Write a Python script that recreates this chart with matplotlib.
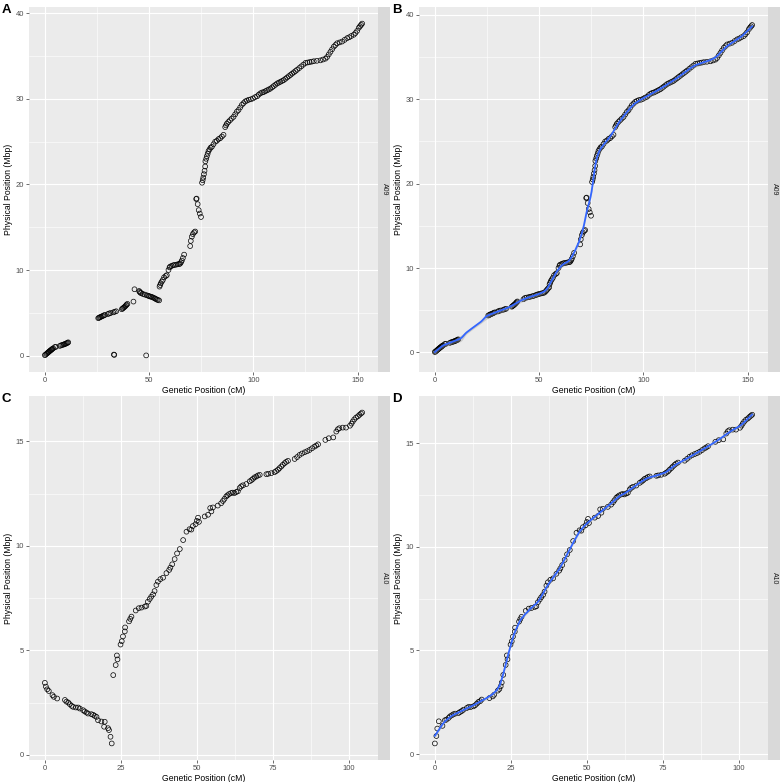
import numpy as np
import matplotlib
matplotlib.use('Agg')
import matplotlib.pyplot as plt

plt.rcParams['font.family'] = ['Liberation Sans', 'DejaVu Sans']

# A09: markers shared by the raw map (A) and the corrected map (B)
a09_gen = [0.0, 0.3, 0.8, 1.1, 1.5, 1.8, 2.1, 2.4, 2.7, 3.0, 3.3, 3.6, 4.0, 4.8, 5.3,
           7.2, 7.8, 8.4, 8.9, 9.3, 9.7, 10.1, 10.5, 10.9, 11.2,
           25.6, 26.0, 26.4, 26.8, 27.3, 27.8, 28.3, 28.8, 30.2, 30.8, 31.5, 32.8, 33.5, 34.2,
           36.9, 37.3, 37.7, 38.1, 38.5, 38.9, 39.2, 39.6,
           55.0, 55.3, 55.6, 56.1, 56.6, 57.2, 58.0, 58.5, 59.3, 59.8, 60.1, 60.8, 61.5, 62.2,
           63.0, 63.8, 64.5, 64.9, 65.3, 65.7, 66.2, 66.8,
           69.7, 70.0, 70.5, 71.0, 71.6, 72.1, 72.6, 72.8, 73.3, 73.8, 74.3, 74.9,
           75.4, 75.7, 76.0, 76.3, 76.6, 76.9, 77.0, 77.4, 77.7, 78.1, 78.5, 79.0, 79.5, 80.1,
           80.9, 81.7, 82.5, 83.3, 84.1, 84.9, 85.7, 86.5, 86.9, 87.3, 88.0, 88.8, 89.6, 90.5,
           91.3, 92.1, 92.9, 93.7, 94.5, 95.3, 96.1, 96.9, 97.8, 98.8, 99.8, 100.8, 101.8, 102.6,
           103.4, 104.2, 105.0, 105.8, 106.6, 107.4, 108.2, 109.0, 109.8, 110.6, 111.4, 112.2,
           113.0, 113.8, 114.6, 115.4, 116.2, 117.0, 117.8, 118.6, 119.4, 120.2, 121.0, 122.0,
           123.0, 124.0, 125.0, 126.0, 127.0, 128.0, 129.0, 130.5, 132.2, 133.4, 134.6, 135.4,
           136.2, 137.0, 137.8, 138.6, 139.4, 140.2, 141.4, 142.6, 143.8, 145.0, 146.0, 147.0,
           148.2, 149.0, 149.8, 150.6, 151.2, 151.7, 152.2]
a09_phys = [0.05, 0.1, 0.2, 0.28, 0.35, 0.42, 0.48, 0.55, 0.6, 0.66, 0.72, 0.78, 0.85, 1.0, 1.02,
            1.13, 1.2, 1.25, 1.28, 1.32, 1.36, 1.4, 1.45, 1.5, 1.55,
            4.37, 4.42, 4.48, 4.52, 4.58, 4.63, 4.7, 4.75, 4.85, 4.92, 4.97, 5.05, 5.12, 5.18,
            5.42, 5.5, 5.58, 5.66, 5.75, 5.85, 5.95, 6.04,
            8.06, 8.25, 8.45, 8.65, 8.84, 9.15, 9.3, 9.4, 10.0, 10.3, 10.4, 10.48, 10.55, 10.6,
            10.62, 10.68, 10.7, 10.75, 10.9, 11.1, 11.4, 11.8,
            12.8, 13.4, 13.9, 14.2, 14.4, 14.5, 18.3, 18.35, 17.7, 17.0, 16.6, 16.2,
            20.2, 20.5, 20.8, 21.2, 21.6, 22.1, 22.7, 23.0, 23.3, 23.6, 23.9, 24.1, 24.3, 24.4,
            24.7, 25.0, 25.1, 25.3, 25.4, 25.6, 25.8, 26.7, 26.9, 27.1, 27.3, 27.5, 27.7, 27.9,
            28.2, 28.5, 28.7, 29.0, 29.3, 29.5, 29.7, 29.8, 29.9, 29.95, 30.05, 30.2, 30.3, 30.5,
            30.65, 30.75, 30.8, 30.9, 31.0, 31.1, 31.2, 31.35, 31.5, 31.65, 31.8, 31.9,
            32.0, 32.1, 32.2, 32.35, 32.5, 32.65, 32.8, 32.95, 33.1, 33.25, 33.4, 33.6,
            33.8, 34.0, 34.2, 34.25, 34.3, 34.35, 34.4, 34.45, 34.5, 34.6, 34.7, 34.9,
            35.2, 35.5, 35.8, 36.1, 36.3, 36.5, 36.6, 36.7, 36.9, 37.1, 37.2, 37.35,
            37.5, 37.7, 37.95, 38.3, 38.5, 38.65, 38.8]

# A09 raw-map only (misplaced block and outliers)
a09_raw_gen = [42.5, 43.0, 45.2, 45.5, 45.8, 46.2, 47.0, 47.9, 48.8, 49.5, 50.0, 50.5, 51.0,
               51.6, 52.2, 52.8, 53.2, 53.7, 54.2, 54.8, 33.1, 33.3, 48.6]
a09_raw_phys = [6.31, 7.75, 7.55, 7.45, 7.35, 7.3, 7.2, 7.13, 7.05, 7.0, 6.95, 6.9, 6.88,
                6.82, 6.75, 6.68, 6.62, 6.55, 6.5, 6.45, 0.12, 0.08, 0.02]

# A09 corrected-map only (reoriented block)
a09_fix_gen = [42.5, 43.2, 44.0, 45.0, 45.8, 46.6, 47.4, 48.3, 49.0, 49.6, 50.4, 51.2, 52.0,
               52.6, 53.2, 53.7, 54.2, 54.8]
a09_fix_phys = [6.3, 6.45, 6.5, 6.55, 6.6, 6.65, 6.7, 6.78, 6.85, 6.9, 6.95, 7.0, 7.05,
                7.1, 7.25, 7.4, 7.55, 7.7]

# A10: markers shared by the raw map (C) and the corrected map (D)
a10_gen = [22.5, 23.3, 23.7, 23.9, 24.9, 25.3, 25.7, 26.3, 26.4, 27.7, 28.1, 28.5, 29.9, 30.9,
           31.8, 32.9, 33.4, 33.9, 34.5, 35.0, 35.6, 36.1, 36.7, 37.2, 38.0, 38.9, 40.0, 40.9,
           41.3, 41.9, 42.7, 43.5, 44.4, 45.5, 46.6, 47.6, 48.2, 48.7, 49.6, 50.0, 50.4, 50.7,
           52.6, 53.7, 54.4, 54.8, 55.3, 56.9, 58.0, 58.6, 59.1, 59.7, 60.1, 60.6, 61.3, 61.8,
           62.4, 63.0, 63.5, 64.1, 64.6, 65.2, 66.3, 67.4, 68.0, 68.5, 69.0, 69.6, 70.1, 70.7,
           72.9, 73.5, 74.5, 75.6, 76.1, 76.7, 77.2, 77.8, 78.3, 78.9, 79.4, 80.0, 82.2, 83.0,
           83.8, 84.6, 85.5, 86.3, 87.1, 87.9, 88.7, 89.3, 89.9, 92.3, 93.4, 94.9, 95.9, 96.4,
           96.9, 98.0, 99.1, 100.4, 100.9, 101.3, 101.8, 102.4, 103.0, 103.5, 104.0, 104.4]
a10_phys = [3.82, 4.30, 4.76, 4.57, 5.28, 5.44, 5.67, 5.91, 6.10, 6.39, 6.51, 6.62, 6.91, 7.02,
            7.05, 7.10, 7.13, 7.33, 7.46, 7.57, 7.68, 7.84, 8.13, 8.29, 8.41, 8.48, 8.7, 8.85,
            8.96, 9.12, 9.37, 9.64, 9.85, 10.28, 10.68, 10.8, 10.78, 10.95, 11.04, 11.2, 11.35, 11.15,
            11.41, 11.49, 11.81, 11.65, 11.84, 11.93, 12.04, 12.15, 12.25, 12.37, 12.42, 12.48, 12.53, 12.55,
            12.53, 12.58, 12.61, 12.77, 12.85, 12.9, 12.96, 13.09, 13.15, 13.21, 13.28, 13.32, 13.37, 13.4,
            13.43, 13.45, 13.48, 13.53, 13.58, 13.64, 13.72, 13.8, 13.88, 13.96, 14.02, 14.07, 14.16, 14.25,
            14.35, 14.42, 14.48, 14.53, 14.59, 14.67, 14.75, 14.8, 14.86, 15.07, 15.15, 15.19, 15.47, 15.58,
            15.63, 15.66, 15.66, 15.75, 15.85, 15.95, 16.05, 16.14, 16.2, 16.27, 16.33, 16.38]

# A10 raw-map only (inverted start of the chromosome)
a10_raw_gen = [0.0, 0.33, 0.77, 1.3, 2.5, 2.96, 4.05, 6.6, 7.1, 7.7, 8.2, 8.8, 9.3, 10.2, 10.95,
               11.5, 12.6, 13.1, 13.7, 14.2, 15.3, 15.9, 16.4, 17.0, 17.5, 18.6, 19.7, 19.5,
               20.8, 21.1, 21.6, 22.0]
a10_raw_phys = [3.45, 3.27, 3.14, 3.06, 2.86, 2.78, 2.70, 2.63, 2.55, 2.51, 2.43, 2.35, 2.30, 2.27,
                2.27, 2.22, 2.14, 2.08, 2.03, 1.98, 1.95, 1.92, 1.87, 1.82, 1.66, 1.60, 1.59, 1.35,
                1.28, 1.19, 0.87, 0.55]

# A10 corrected-map only
a10_fix_gen = [0.0, 0.5, 0.8, 1.3, 2.5, 3.3, 3.8, 4.5, 5.0, 5.6, 6.1, 6.7, 7.8, 8.3, 8.9, 9.4,
               10.5, 11.05, 11.8, 12.7, 13.2, 13.8, 14.3, 14.9, 15.4, 17.95, 19.04, 19.5, 20.7,
               21.23, 21.67, 22.0]
a10_fix_phys = [0.51, 0.87, 1.23, 1.58, 1.36, 1.63, 1.66, 1.74, 1.82, 1.87, 1.92, 1.95, 1.98, 2.03,
                2.08, 2.14, 2.22, 2.27, 2.27, 2.30, 2.35, 2.43, 2.51, 2.55, 2.63, 2.70, 2.78, 2.86,
                3.06, 3.14, 3.27, 3.45]

panel_letters = ['A', 'B', 'C', 'D']
chrom_labels = ['A09', 'A09', 'A10', 'A10']
a09_xticks = [0, 50, 100, 150]
a09_yticks = [0, 10, 20, 30, 40]
a10_xticks = [0, 25, 50, 75, 100]
a10_yticks = [0, 5, 10, 15]

W, H = 783, 782


def smooth(x, y, grid, k):
    # local linear fit, gaussian weights, bandwidth from the k-th nearest neighbour
    def weights(g):
        d = np.abs(x - g)
        h = np.sort(d)[k - 1] / 2
        w = np.exp(-0.5 * (d / h) ** 2)
        X = np.column_stack([np.ones_like(x), x - g])
        A = X.T @ (X * w[:, None])
        return (np.linalg.solve(A, X.T * w))[0]
    L_data = np.array([weights(g) for g in x])
    resid = y - L_data @ y
    sigma = np.sqrt(np.sum(resid ** 2) / (len(x) - np.trace(L_data)))
    L = np.array([weights(g) for g in grid])
    fit = L @ y
    se = sigma * np.sqrt(np.sum(L ** 2, axis=1))
    return fit, se


def px_rect(left, top, right, bottom):
    return [left / W, 1 - bottom / H, (right - left) / W, (bottom - top) / H]


def draw_panel(fig, box, gen, phys, xticks, yticks, chrom, letter, smooth_k=None):
    left, top, right, bottom = box
    ax = fig.add_axes(px_rect(left, top, right, bottom))
    strip = fig.add_axes(px_rect(right, top, right + 12, bottom))
    gen = np.asarray(gen)
    phys = np.asarray(phys)
    order = np.argsort(gen, kind='stable')
    gen, phys = gen[order], phys[order]

    ax.scatter(gen, phys, s=12, facecolors='none', edgecolors='black', linewidths=0.5, zorder=3)
    ylo, yhi = phys.min(), phys.max()
    if smooth_k:
        grid = np.linspace(gen.min(), gen.max(), 250)
        fit, se = smooth(gen, phys, grid, smooth_k)
        lo, hi = fit - 1.96 * se, fit + 1.96 * se
        ax.fill_between(grid, lo, hi, color='#999999', alpha=0.4, linewidth=0, zorder=4)
        ax.plot(grid, fit, color='#3366FF', linewidth=1.3, zorder=5)
        ylo, yhi = min(ylo, lo.min()), max(yhi, hi.max())

    xpad = 0.05 * (gen.max() - gen.min())
    ypad = 0.05 * (yhi - ylo)
    ax.set_xlim(gen.min() - xpad, gen.max() + xpad)
    ax.set_ylim(ylo - ypad, yhi + ypad)

    ax.set_facecolor('#EBEBEB')
    for s in ax.spines.values():
        s.set_visible(False)
    ax.set_xticks(xticks)
    ax.set_yticks(yticks)
    ax.set_xticks([(a + b) / 2 for a, b in zip(xticks[:-1], xticks[1:])], minor=True)
    ax.set_yticks([(a + b) / 2 for a, b in zip(yticks[:-1], yticks[1:])], minor=True)
    ax.grid(which='major', color='white', linewidth=0.8)
    ax.grid(which='minor', color='white', linewidth=0.4)
    ax.set_axisbelow(True)
    ax.tick_params(which='major', length=2, width=0.5, color='#333333',
                   labelsize=5.5, labelcolor='#4D4D4D', pad=1.5)
    ax.tick_params(which='minor', length=0)
    ax.set_xlabel('Genetic Position (cM)', fontsize=6.2, labelpad=1.5)
    ax.set_ylabel('Physical Position (Mbp)', fontsize=6.2, labelpad=2)

    strip.set_facecolor('#D9D9D9')
    strip.set_xticks([])
    strip.set_yticks([])
    for s in strip.spines.values():
        s.set_visible(False)
    strip.text(0.5, 0.5, chrom, rotation=-90, ha='center', va='center',
               fontsize=5, color='#1A1A1A', transform=strip.transAxes)

    fig.text((left - 27) / W, 1 - (top - 3) / H, letter, fontsize=9.5,
             fontweight='bold', ha='left', va='top')


def main():
    fig = plt.figure(figsize=(W / 100, H / 100), dpi=100)

    draw_panel(fig, (29, 7, 378, 372), a09_gen + a09_raw_gen, a09_phys + a09_raw_phys,
               a09_xticks, a09_yticks, chrom_labels[0], panel_letters[0])
    draw_panel(fig, (419, 7, 768, 372), a09_gen + a09_fix_gen, a09_phys + a09_fix_phys,
               a09_xticks, a09_yticks, chrom_labels[1], panel_letters[1], smooth_k=12)
    draw_panel(fig, (29, 396, 378, 760), a10_raw_gen + a10_gen, a10_raw_phys + a10_phys,
               a10_xticks, a10_yticks, chrom_labels[2], panel_letters[2])
    draw_panel(fig, (419, 396, 768, 760), a10_fix_gen + a10_gen, a10_fix_phys + a10_phys,
               a10_xticks, a10_yticks, chrom_labels[3], panel_letters[3], smooth_k=10)

    fig.savefig('out.png', dpi=100)


if __name__ == "__main__":
    main()
